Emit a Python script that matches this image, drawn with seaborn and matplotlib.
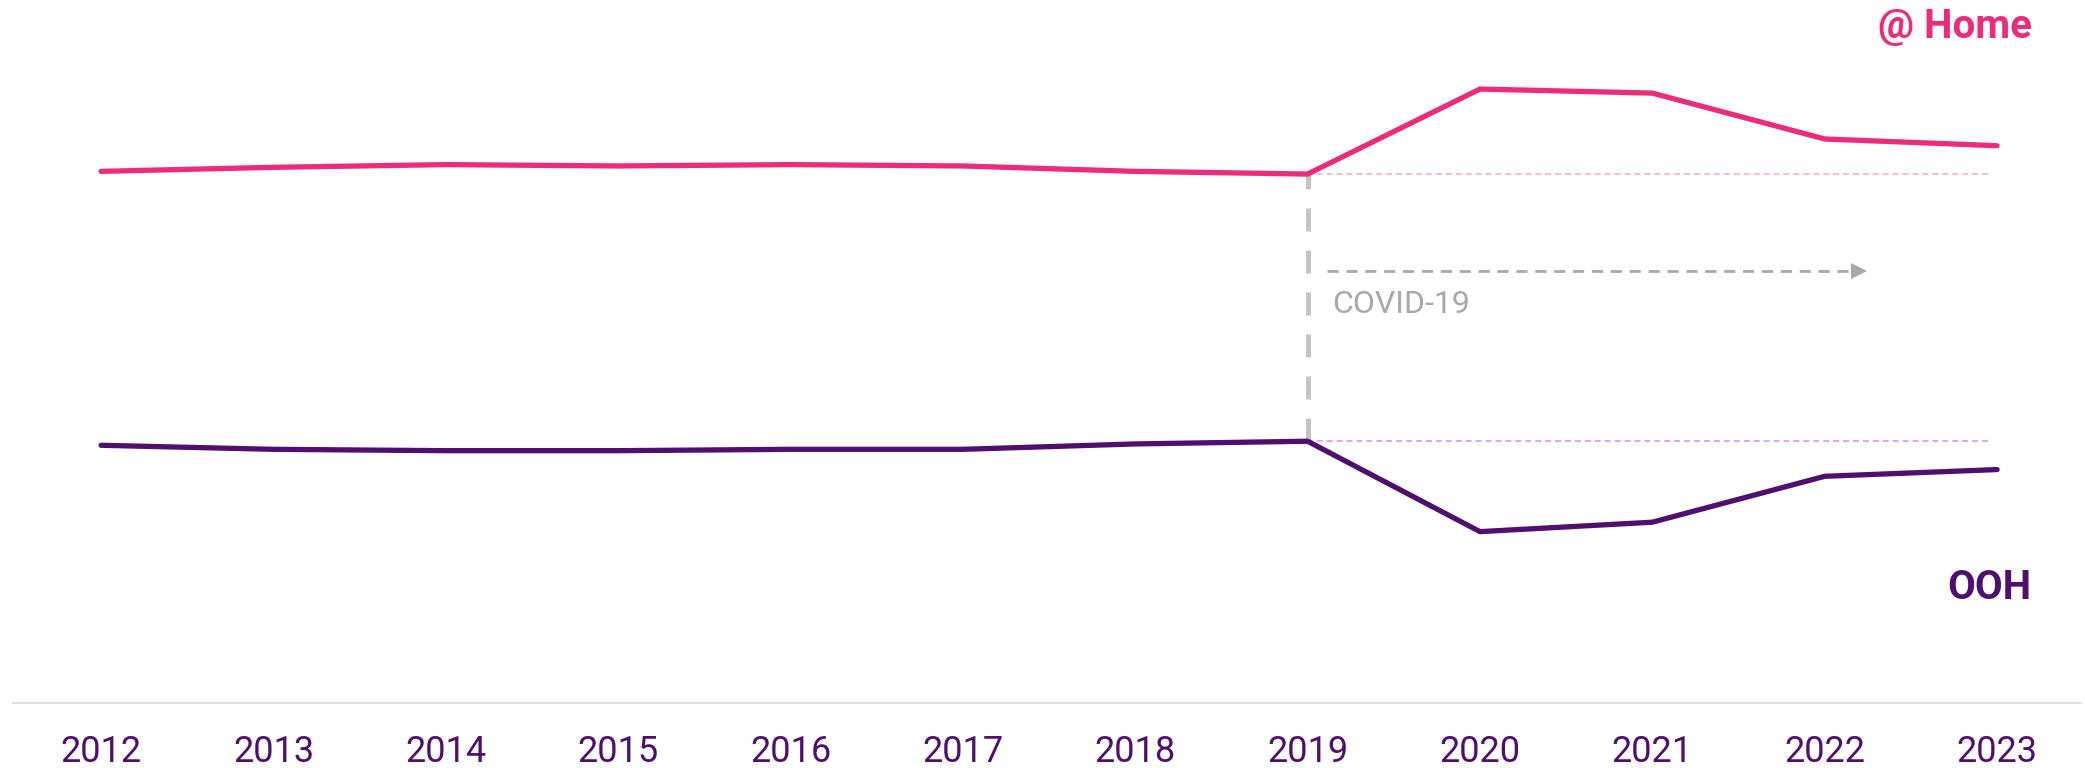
import matplotlib
matplotlib.use("Agg")
import matplotlib.pyplot as plt
import pandas as pd
import seaborn as sns

# Data (share of spend, %)
years = [2012, 2013, 2014, 2015, 2016, 2017, 2018, 2019, 2020, 2021, 2022, 2023]
home_share = [60.1, 60.4, 60.6, 60.5, 60.6, 60.5, 60.1, 59.9, 66.2, 65.9, 62.5, 62.0]
ooh_share = [39.8, 39.5, 39.4, 39.4, 39.5, 39.5, 39.9, 40.1, 33.4, 34.1, 37.5, 38.0]
series_names = ["@ Home", "OOH"]
covid_year = 2019
covid_label = "COVID-19"

PINK = "#EE2A7B"
PURPLE = "#4F0F6E"
PINK_LIGHT = "#F7A8C8"
PURPLE_LIGHT = "#D08CF2"
GREY = "#C4C4C4"
GREY_DARK = "#A8A8A8"


def build_frame():
    rows = []
    for name, vals in zip(series_names, [home_share, ooh_share]):
        for y, v in zip(years, vals):
            rows.append({"year": y, "share": v, "channel": name})
    return pd.DataFrame(rows)


def main():
    df = build_frame()

    sns.set_theme(style="white")
    plt.rcParams["font.family"] = ["Roboto", "DejaVu Sans"]

    fig = plt.figure(figsize=(20.85, 7.68), dpi=100)
    ax = fig.add_axes([13 / 2085, 65 / 768, 2068 / 2085, 703 / 768])

    sns.lineplot(data=df, x="year", y="share", hue="channel",
                 palette={"@ Home": PINK, "OOH": PURPLE},
                 linewidth=3.8, ax=ax, legend=False,
                 solid_capstyle="round", solid_joinstyle="miter")

    # reference lines at 2019 levels
    i19 = years.index(covid_year)
    ax.hlines(home_share[i19], covid_year - 0.18, years[-1] - 0.04,
              color=PINK_LIGHT, linewidth=1.1, linestyles=(0, (3.9, 2.6)), zorder=1)
    ax.hlines(ooh_share[i19], covid_year - 0.18, years[-1] - 0.04,
              color=PURPLE_LIGHT, linewidth=1.1, linestyles=(0, (3.9, 2.6)), zorder=1)

    # covid marker
    ax.plot([covid_year, covid_year], [ooh_share[i19], home_share[i19]],
            color=GREY, linewidth=3.6, dashes=(4.6, 3.8), zorder=1)
    arrow_y = 52.7
    ax.plot([covid_year + 0.11, covid_year + 3.17], [arrow_y, arrow_y],
            color=GREY_DARK, linewidth=2.0, dashes=(4, 2.8))
    ax.plot([covid_year + 3.2], [arrow_y], marker=">", markersize=11,
            color=GREY_DARK, markeredgewidth=0)
    ax.text(covid_year + 0.14, 50.2, covid_label, color=GREY_DARK,
            fontsize=23, va="center", ha="left")

    # series labels
    ax.text(2023.2, 70.8, series_names[0], color=PINK, fontsize=29,
            fontweight="bold", ha="right", va="center")
    ax.text(2023.2, 29.2, series_names[1], color=PURPLE, fontsize=29,
            fontweight="bold", ha="right", va="center")

    ax.set_xlim(2011.489, 2023.487)
    ax.set_ylim(20.7, 72.8)
    ax.set_xticks(years)
    ax.set_xticklabels([str(y) for y in years])
    ax.set_yticks([])
    ax.set_xlabel("")
    ax.set_ylabel("")
    ax.tick_params(axis="x", length=0, pad=22, labelsize=26, labelcolor=PURPLE)
    for side in ["top", "left", "right"]:
        ax.spines[side].set_visible(False)
    ax.spines["bottom"].set_color("#D9D9D9")
    ax.spines["bottom"].set_linewidth(1.2)
    ax.grid(False)

    fig.savefig("out.png", dpi=100, facecolor="white")
    plt.close(fig)


if __name__ == "__main__":
    main()
